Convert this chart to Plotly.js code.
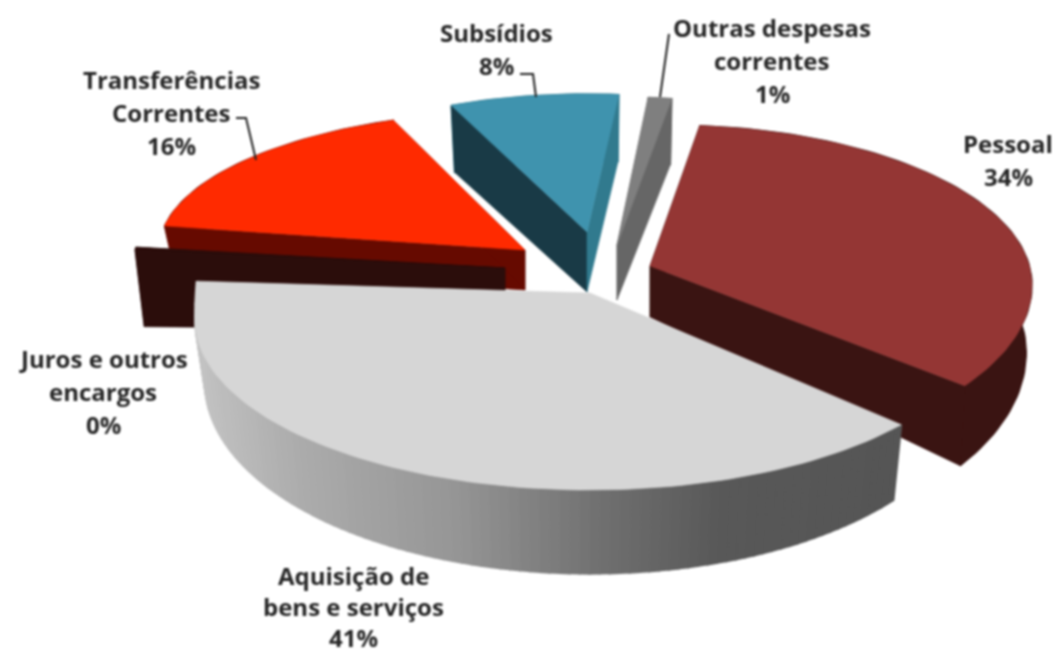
<!DOCTYPE html>
<html><head><meta charset="utf-8">
<script src="https://cdn.plot.ly/plotly-3.0.1.min.js"></script>
<style>html,body{margin:0;padding:0;background:#fff}#chart{width:1054px;height:654px;filter:blur(0.9px)}</style>
</head><body><div id="chart"></div>
<script>
// ---- data ----
const categories = ["Pessoal","Aquisição de bens e serviços","Juros e outros encargos","Transferências Correntes","Subsídios","Outras despesas correntes"];
const values = [33.5, 41, 0.3, 16.4, 8, 1];
const labelLines = [["Pessoal"],["Aquisição de","bens e serviços"],["Juros e outros","encargos"],["Transferências","Correntes"],["Subsídios"],["Outras despesas","correntes"]];

// ---- styling and placement of the exploded perspective pie ----
const topColors  = ["#943634","#d6d6d6","#2b0d0b","#ff2a00","#3f93ae","#7f7f7f"];
const wallColors = ["#3a1412","#808080","#2b0d0b","#660a00","#317a8e","#666666"];
const startCutColors = ["#3a1412","#808080","#2b0d0b","#660a00","#193a46","#666666"];
const endCutColors   = ["#3a1412","#808080","#2b0d0b","#660a00","#317a8e","#666666"];
// apex of the wedge, rim centre offset, radii, first angle, depths
const placement = [
 {ax:650,ay:266,cx:18,cy:19,rx:364,far:160,near:174,start:5,  dA:51,dR:65,k:.125,shrink:.985},
 {ax:590,ay:293,cx:0, cy:27,rx:395,far:420,near:170,start:128,dA:60,dR:59,k:.125,shrink:.975},
 {ax:505,ay:268,cx:0, cy:0, rx:373,far:140,near:140,start:277.5,dA:62,dR:77,k:0,shrink:.975},
 {ax:525,ay:250,cx:0, cy:0, rx:366,far:139,near:139,start:280,dA:40,dR:40,k:0,shrink:.975},
 {ax:587,ay:232,cx:0, cy:0, rx:342,far:138,near:138,start:-23.4,dA:60,dR:67,k:0,shrink:.975},
 {ax:617,ay:245,cx:0, cy:0, rx:380,far:148,near:148,start:4.7, dA:55,dR:66,k:0,shrink:.975}
];
const drawOrder = [5,4,3,2,0,1];
const greyStops = [[195,194],[300,171],[450,150],[600,112],[720,88],[900,85]];
const labelX = [1008,353,103,171,496,772];
const labelTopY = [143,575,358,79,32,27];
const lineGaps = [33,31,33,33,33,33];
const leaders = [
 {x:[236,246,256],y:[118,118,160]},
 {x:[520,533,536],y:[74,74,97]},
 {x:[669,660],y:[34,97]}
];
const rad = d => d*Math.PI/180;

const total = values.reduce((a,b)=>a+b,0);
function rim(p,t){
  const s=Math.sin(rad(t)), c=Math.cos(rad(t));
  return [p.ax+p.cx+p.rx*s, p.ay+p.cy-(c>0?p.far:p.near)*c];
}
function lower(p,pt){
  const d=p.dR+p.k*(pt[1]-p.ay);
  return [p.ax+(pt[0]-p.ax)*p.shrink, pt[1]+d];
}
function poly(pts,color,w){
  return {type:"scatter",mode:"lines",x:pts.map(q=>q[0]).concat(pts[0][0]),y:pts.map(q=>q[1]).concat(pts[0][1]),
    fill:"toself",fillcolor:color,line:{color:color,width:w||0.6},hoverinfo:"skip",showlegend:false};
}
function greyAt(x){
  for(let i=1;i<greyStops.length;i++){
    if(x<=greyStops[i][0]){
      const a=greyStops[i-1],b=greyStops[i],f=Math.max(0,(x-a[0])/(b[0]-a[0]));
      const v=Math.round(a[1]+(b[1]-a[1])*f);
      return "rgb("+v+","+v+","+v+")";
    }
  }
  return "rgb(85,85,85)";
}
const traces=[];
drawOrder.forEach(i=>{
  const p=placement[i], span=values[i]/total*360, t0=p.start, t1=p.start+span;
  const n=Math.max(2,Math.ceil(span/1.5)), arc=[];
  for(let j=0;j<=n;j++) arc.push(rim(p,t0+(t1-t0)*j/n));
  const low=arc.map(q=>lower(p,q));
  const apex=[p.ax,p.ay], apexLow=[p.ax,p.ay+p.dA];
  if(i===1){
    // the front slice: its outer wall is shaded band by band; its cut faces stay hidden
    for(let j=0;j<n;j++){
      traces.push(poly([arc[j],arc[j+1],low[j+1],low[j]],greyAt((arc[j][0]+arc[j+1][0])/2),2));
    }
  } else {
    traces.push(poly(arc.concat(low.slice().reverse()),wallColors[i],1.4));
    traces.push(poly([arc[0],apex,apexLow,low[0]],startCutColors[i]));
    traces.push(poly([arc[n],apex,apexLow,low[n]],endCutColors[i]));
  }
  // top surface
  traces.push(poly([apex].concat(arc),topColors[i]));
});
leaders.forEach(l=>traces.push({type:"scatter",mode:"lines",x:l.x,y:l.y,line:{color:"#222222",width:2},hoverinfo:"skip",showlegend:false}));

const annotations=[];
categories.forEach((c,i)=>{
  const lines=labelLines[i].concat(Math.round(values[i])+"%");
  lines.forEach((txt,k)=>annotations.push({x:labelX[i],y:labelTopY[i]+k*lineGaps[i],xref:"x",yref:"y",text:txt,showarrow:false,
    xanchor:"center",yanchor:"middle",font:{family:"'Open Sans', sans-serif",size:24,color:"#262626",weight:700}}));
});
Plotly.newPlot("chart",traces,{
  width:1054,height:654,margin:{l:0,r:0,t:0,b:0},paper_bgcolor:"#fff",plot_bgcolor:"#fff",showlegend:false,
  xaxis:{range:[0,1054],visible:false,fixedrange:true},
  yaxis:{range:[654,0],visible:false,fixedrange:true},
  annotations:annotations
},{displayModeBar:false,staticPlot:true});
</script></body></html>
